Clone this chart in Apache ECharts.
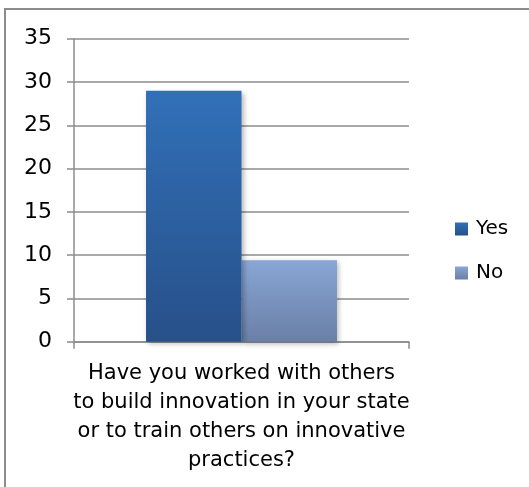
<!DOCTYPE html>
<html>
<head>
<meta charset="utf-8">
<style>
  html, body { margin: 0; padding: 0; background: #ffffff; }
  #chart { width: 529px; height: 487px; }
</style>
<script src="https://cdn.jsdelivr.net/npm/echarts@6/dist/echarts.min.js"></script>
</head>
<body>
<div id="chart"></div>
<script>
// Survey question (single category) and answer counts
const categories = ['Have you worked with others\nto build innovation in your state\nor to train others on innovative\npractices?'];
const seriesNames = ['Yes', 'No'];
const yesValues = [29];
const noValues = [9.4];
const yTicks = [0, 5, 10, 15, 20, 25, 30, 35];

const FONT = '"DejaVu Sans", sans-serif';

function vGrad(top, bottom) {
  return new echarts.graphic.LinearGradient(0, 0, 0, 1, [
    { offset: 0, color: top },
    { offset: 1, color: bottom }
  ]);
}

const chart = echarts.init(document.getElementById('chart'), null, { renderer: 'canvas' });

const barShadow = {
  shadowBlur: 5,
  shadowColor: 'rgba(0,0,0,0.28)',
  shadowOffsetX: 2,
  shadowOffsetY: 2
};

chart.setOption({
  animation: false,
  backgroundColor: '#ffffff',
  graphic: [{
    type: 'rect',
    shape: { x: 5, y: 9, width: 600, height: 600 },
    style: { fill: 'none', stroke: '#8c8c8c', lineWidth: 2 },
    z: 0
  }],
  grid: { left: 74, top: 38.7, width: 335, height: 303, containLabel: false },
  legend: {
    orient: 'vertical',
    left: 450,
    top: 214,
    itemWidth: 13,
    itemHeight: 13,
    itemGap: 24,
    icon: 'rect',
    textStyle: { fontFamily: FONT, fontSize: 20, color: '#000000', padding: [0, 0, 0, 3] },
    data: seriesNames
  },
  xAxis: {
    type: 'category',
    data: categories,
    axisLine: { show: true, lineStyle: { color: '#8c8c8c', width: 1.5 } },
    axisTick: { show: true, length: 7, alignWithLabel: false, lineStyle: { color: '#8c8c8c', width: 1.5 } },
    axisLabel: {
      interval: 0,
      margin: 17,
      fontFamily: FONT,
      fontSize: 21,
      lineHeight: 29,
      color: '#000000',
      align: 'center'
    },
    splitLine: { show: false }
  },
  yAxis: {
    type: 'value',
    min: yTicks[0],
    max: yTicks[yTicks.length - 1],
    interval: 5,
    axisLine: { show: true, lineStyle: { color: '#8c8c8c', width: 1.5 } },
    axisTick: { show: true, length: 7, lineStyle: { color: '#8c8c8c', width: 1.5 } },
    axisLabel: {
      margin: 22,
      fontFamily: FONT,
      fontSize: 22,
      color: '#000000'
    },
    splitLine: { show: true, lineStyle: { color: '#8c8c8c', width: 1.5 } }
  },
  series: [
    {
      name: seriesNames[0],
      type: 'bar',
      data: yesValues,
      barGap: '0%',
      barCategoryGap: '43%',
      itemStyle: Object.assign({ color: vGrad('#3170b8', '#275089') }, barShadow),
      z: 3
    },
    {
      name: seriesNames[1],
      type: 'bar',
      data: noValues,
      itemStyle: Object.assign({ color: vGrad('#88a6d5', '#6a7fa6') }, barShadow),
      z: 2
    }
  ]
});
</script>
</body>
</html>
